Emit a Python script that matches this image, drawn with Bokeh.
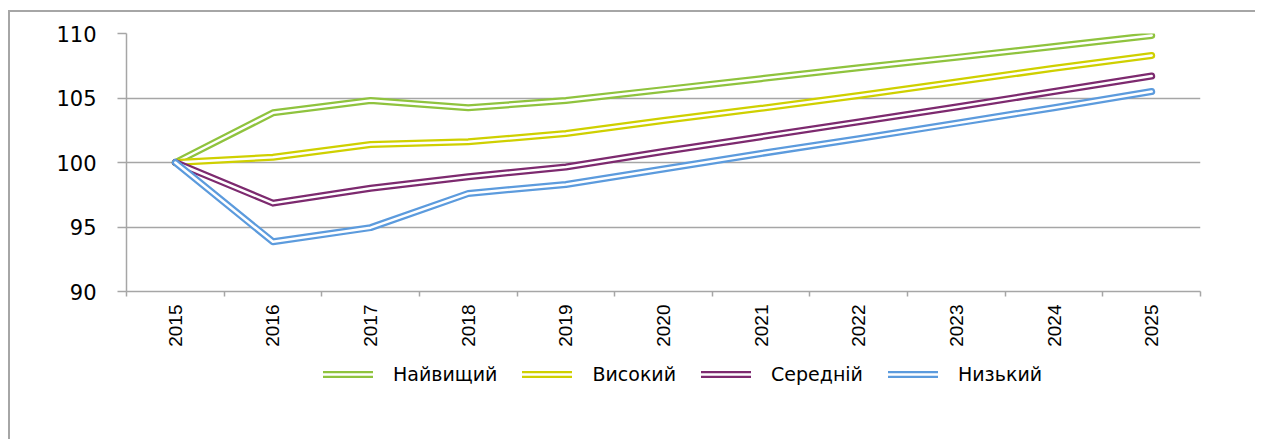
import math
from bokeh.plotting import figure
from bokeh.layouts import column
from bokeh.models import FixedTicker, Legend, LegendItem, Range1d
from bokeh.embed import file_html
from bokeh.resources import INLINE

years = ["2015", "2016", "2017", "2018", "2019", "2020", "2021", "2022", "2023", "2024", "2025"]
naivyshchyi = [100, 103.85, 104.8, 104.25, 104.8, 105.65, 106.5, 107.35, 108.15, 109.0, 109.85]
vysokyi = [100, 100.4, 101.4, 101.6, 102.25, 103.25, 104.2, 105.2, 106.25, 107.3, 108.3]
serednii = [100, 96.85, 98.0, 98.9, 99.65, 100.85, 102.0, 103.15, 104.3, 105.5, 106.7]
nyzkyi = [100, 93.85, 94.95, 97.6, 98.3, 99.5, 100.7, 101.85, 103.05, 104.25, 105.5]
series_names = ["Найвищий", "Високий", "Середній", "Низький"]
series_values = [naivyshchyi, vysokyi, serednii, nyzkyi]
series_colors = ["#8FC33E", "#CFD000", "#7D2A6F", "#5C9BDD"]
y_ticks = [90, 95, 100, 105, 110]

xs = list(range(1, len(years) + 1))
grey = "#A6A6A6"

p = figure(
    output_backend="svg", toolbar_location=None,
    frame_width=1074, frame_height=258,
    min_border_left=116, min_border_top=21, min_border_right=55, min_border_bottom=0,
    x_range=Range1d(0.5, len(years) + 0.5), y_range=Range1d(90, 110),
    background_fill_color="white", border_fill_color="white",
)
p.outline_line_color = None

# x axis
p.xaxis.ticker = FixedTicker(ticks=xs, minor_ticks=[x - 0.5 for x in xs] + [xs[-1] + 0.5])
p.xaxis.major_label_overrides = {x: y for x, y in zip(xs, years)}
p.xaxis.major_label_orientation = math.pi / 2
p.xaxis.major_tick_out = 0
p.xaxis.major_tick_in = 0
p.xaxis.minor_tick_out = 5
p.xaxis.minor_tick_in = 0
p.xaxis.minor_tick_line_color = grey
p.xaxis.minor_tick_line_width = 1.5
p.xaxis.axis_line_color = grey
p.xaxis.axis_line_width = 1.5
p.xaxis.major_label_standoff = 8
p.xaxis.major_label_text_font = "Liberation Sans"
p.xaxis.major_label_text_font_size = "19px"
p.xaxis.major_label_text_color = "#000000"

# y axis
p.yaxis.ticker = FixedTicker(ticks=y_ticks)
p.yaxis.major_tick_out = 9
p.yaxis.major_tick_in = 0
p.yaxis.minor_tick_line_color = None
p.yaxis.major_tick_line_color = grey
p.yaxis.major_tick_line_width = 1.5
p.yaxis.axis_line_color = grey
p.yaxis.axis_line_width = 1.5
p.yaxis.major_label_standoff = 21
p.yaxis.major_label_text_font = "DejaVu Sans"
p.yaxis.major_label_text_font_size = "21px"
p.yaxis.major_label_text_color = "#000000"

p.xgrid.grid_line_color = None
p.ygrid.ticker = FixedTicker(ticks=y_ticks)
p.ygrid.grid_line_color = grey
p.ygrid.grid_line_width = 1.5

for name, vals, col in zip(series_names, series_values, series_colors):
    p.line(xs, vals, line_color=col, line_width=7, line_cap="round", line_join="round")
    p.line(xs, vals, line_color="white", line_width=2.5, line_cap="round", line_join="round")

# legend strip below the chart (series drawn out of view so only the legend shows)
p2 = figure(
    output_backend="svg", toolbar_location=None, width=1245, height=90,
    x_axis_location=None, y_axis_location=None, min_border=0,
    x_range=Range1d(-2, -1), y_range=Range1d(0, 1),
    background_fill_color="white", border_fill_color="white",
)
p2.outline_line_color = None
p2.grid.visible = False

items = []
for name, vals, col in zip(series_names, series_values, series_colors):
    r1 = p2.line(xs, vals, line_color=col, line_width=7, line_cap="round", line_join="round")
    r2 = p2.line(xs, vals, line_color="white", line_width=2.5, line_cap="round", line_join="round")
    items.append(LegendItem(label=name, renderers=[r1, r2]))

legend = Legend(items=items, orientation="horizontal", location=(197, 54))
legend.label_text_font = "DejaVu Sans"
legend.label_text_font_size = "19px"
legend.label_text_color = "#000000"
legend.glyph_width = 50
legend.glyph_height = 20
legend.label_standoff = 20
legend.spacing = 25
legend.border_line_color = None
legend.background_fill_alpha = 0
legend.margin = 0
legend.padding = 4
p2.add_layout(legend, "center")

layout = column(p, p2, spacing=0,
                styles={"border-left": "2px solid #A6A6A6", "border-top": "2px solid #A6A6A6",
                        "margin-top": "10px", "margin-left": "8px"})

open("out.html", "w").write(file_html(layout, INLINE))
